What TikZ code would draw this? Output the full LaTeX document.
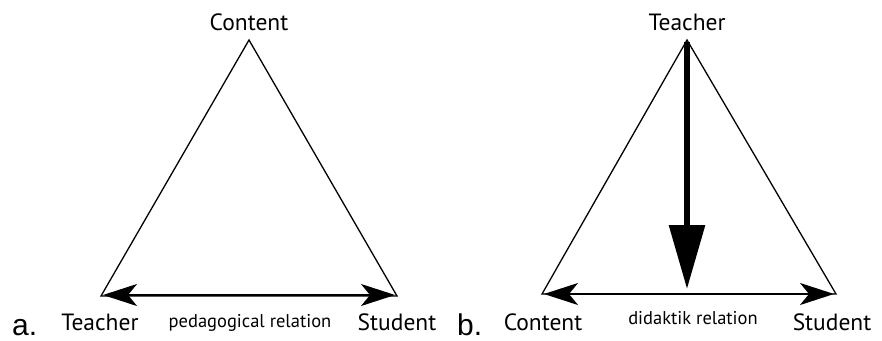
\documentclass[tikz,border=0pt]{standalone}
\usepackage{fontspec}
\setmainfont{PT Sans}
\newfontfamily\arialfont{Liberation Sans}
\usetikzlibrary{arrows.meta}
\begin{document}
\begin{tikzpicture}[x=1pt,y=-1pt,
  lbl/.style={inner sep=0pt,anchor=base,font=\fontsize{23.5}{26}\selectfont},
  small/.style={inner sep=0pt,anchor=base,font=\fontsize{18.5}{20}\selectfont},
  letter/.style={inner sep=0pt,anchor=base west,font=\arialfont\fontsize{30}{32}\selectfont},
  tri/.style={line width=1.3pt,line join=miter},
  rel/.style={line width=2pt,{Stealth[length=34pt,width=22pt,inset=9pt]}-{Stealth[length=34pt,width=22pt,inset=9pt]}},
  down/.style={line width=6pt,-{Triangle[length=64pt,width=35pt]}}]
\useasboundingbox (0,0) rectangle (882,340);
% panel a
\coordinate (aT) at (249,40);
\coordinate (aL) at (101,296);
\coordinate (aR) at (397,296);
\draw[tri] (aT) -- (aL) -- (aR) -- cycle;
\coordinate (aL2) at (103,295);
\coordinate (aR2) at (395,295);
\draw[rel] (aL2) -- (aR2);
\node[lbl] (ac) at (249,30) {Content};
\node[lbl] (at) at (100,330) {Teacher};
\node[small] (ap) at (250,327) {pedagogical relation};
\node[lbl] (as) at (397,330) {Student};
\node[letter] (al) at (12,335) {a.};
% panel b
\coordinate (bT) at (687,40);
\coordinate (bL) at (542,294);
\coordinate (bR) at (836,294);
\draw[tri] (bT) -- (bL) -- (bR) -- cycle;
\coordinate (bL2) at (544,294);
\coordinate (bR2) at (834,294);
\draw[rel] (bL2) -- (bR2);
\coordinate (bTop) at (687,42);
\coordinate (bTip) at (687,289);
\draw[down] (bTop) -- (bTip);
\node[lbl] (bt) at (687,30) {Teacher};
\node[lbl] (bc) at (543,330) {Content};
\node[small] (bd) at (693,324) {didaktik relation};
\node[lbl] (bs) at (832,330) {Student};
\node[letter] (bl) at (457,335) {b.};
\end{tikzpicture}
\end{document}
